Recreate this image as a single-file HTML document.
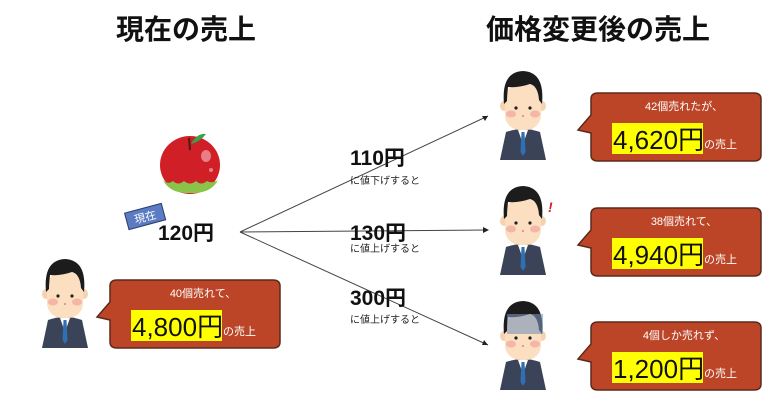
<!DOCTYPE html>
<html><head><meta charset="utf-8"><style>
body{margin:0;background:#fff}
svg{display:block}
text{font-family:"Liberation Sans","Noto Sans CJK JP",sans-serif}
</style></head><body>
<svg width="780" height="412" viewBox="0 0 780 412" xmlns="http://www.w3.org/2000/svg">
<defs>
<g id="p">
<path d="M8 62 Q25 56 42 62 L48 90 L2 90 Z" fill="#3b4358"/>
<path d="M20 60 L25 74 L30 60 Z" fill="#fff"/>
<path d="M23.5 62 L26.5 62 L27.5 82 L25 86 L22.5 82 Z" fill="#2f6fb3"/>
<ellipse cx="6" cy="36" rx="4" ry="5" fill="#f6d3b0"/>
<ellipse cx="44" cy="36" rx="4" ry="5" fill="#f6d3b0"/>
<rect x="7" y="14" width="36" height="46" rx="15" fill="#fbdfc0"/>
<path d="M6 34 Q3 2 25 1 Q47 2 44 34 L41 30 Q40 16 32 14 Q20 18 10 17 Q9 26 9 31 Z" fill="#1c1c1c"/>
<ellipse cx="13" cy="44" rx="5" ry="3.5" fill="#f5b6a8"/>
<ellipse cx="37" cy="44" rx="5" ry="3.5" fill="#f5b6a8"/>
<circle cx="18" cy="38" r="1.6" fill="#222"/>
<circle cx="32" cy="38" r="1.6" fill="#222"/>
<circle cx="25" cy="46" r="1" fill="#d8868a"/>
</g>
<g id="b">
<path d="M13 6 Q13 0 20 0 L176 0 Q183 0 183 6 L183 62 Q183 68 176 68 L20 68 Q13 68 13 62 L13 40 L0 37 L13 22 Z" fill="#bc4527" stroke="#5a2a1c" stroke-width="1.5"/>
</g>
</defs>

<text x="186" y="39" font-size="28" font-weight="bold" text-anchor="middle" fill="#111">現在の売上</text>
<text x="598" y="39" font-size="28" font-weight="bold" text-anchor="middle" fill="#111">価格変更後の売上</text>

<ellipse cx="190" cy="165" rx="30" ry="29" fill="#d01f26"/>
<path d="M163 180 Q170 194 190 193 Q211 194 218 180 Q212 184 207 181 Q201 186 196 181 Q190 186 184 181 Q178 186 173 181 Q168 185 163 180 Z" fill="#8bc34a"/>
<ellipse cx="206" cy="156" rx="5" ry="6" fill="#e97f86"/>
<circle cx="211" cy="170" r="2" fill="#e97f86"/>
<path d="M189 138 L190 150" stroke="#4a1c10" stroke-width="2"/>
<path d="M191 144 Q197 133 206 134 Q200 142 191 144 Z" fill="#3aa14a"/>

<g transform="rotate(-15 145 216)">
<rect x="126" y="208" width="38" height="17" fill="#5b7bc2" stroke="#2a3a6a"/>
<text x="145" y="221" font-size="11" text-anchor="middle" fill="#fff">現在</text>
</g>
<text x="158" y="240" font-size="21" font-weight="bold" fill="#111">120円</text>

<g stroke="#444" stroke-width="1" fill="none">
<line x1="240" y1="232" x2="488" y2="116"/>
<line x1="240" y1="232" x2="488" y2="230"/>
<line x1="240" y1="232" x2="488" y2="345"/>
</g>
<path d="M488 116 L482 116 L485 121 Z" fill="#222"/>
<path d="M489 230 L483 227 L483 233 Z" fill="#222"/>
<path d="M488 345 L484 340 L482 345 Z" fill="#222"/>

<g font-weight="bold" font-size="21" fill="#111">
<text x="350" y="165">110円</text>
<text x="350" y="240">130円</text>
<text x="350" y="305">300円</text>
</g>
<g font-size="10" fill="#222">
<text x="350" y="184">に値下げすると</text>
<text x="350" y="252">に値上げすると</text>
<text x="350" y="323">に値上げすると</text>
</g>

<use href="#p" x="40" y="258"/>
<use href="#p" x="498" y="70"/>
<use href="#p" x="498" y="185"/>
<use href="#p" x="498" y="300"/>
<text x="548" y="212" font-size="14" font-weight="bold" fill="#d01f26" font-style="italic">!</text>
<rect x="507" y="314" width="36" height="20" fill="#7a93b8" opacity="0.6"/>

<use href="#b" x="97" y="280"/>
<use href="#b" x="578" y="93"/>
<use href="#b" x="578" y="208"/>
<use href="#b" x="578" y="322"/>

<g font-size="11" fill="#fff" text-anchor="middle">
<text x="203" y="297">40個売れて、</text>
<text x="684" y="110">42個売れたが、</text>
<text x="684" y="225">38個売れて、</text>
<text x="684" y="339">4個しか売れず、</text>
</g>
<g fill="#ffff00">
<rect x="131" y="310" width="91" height="31"/>
<rect x="612" y="123" width="91" height="31"/>
<rect x="612" y="238" width="91" height="31"/>
<rect x="612" y="352" width="91" height="31"/>
</g>
<g font-size="26" fill="#111">
<text x="132" y="336">4,800円</text>
<text x="613" y="149">4,620円</text>
<text x="613" y="264">4,940円</text>
<text x="613" y="378">1,200円</text>
</g>
<g font-size="11" fill="#fff">
<text x="223" y="335">の売上</text>
<text x="704" y="148">の売上</text>
<text x="704" y="263">の売上</text>
<text x="704" y="377">の売上</text>
</g>
</svg>
</body></html>
